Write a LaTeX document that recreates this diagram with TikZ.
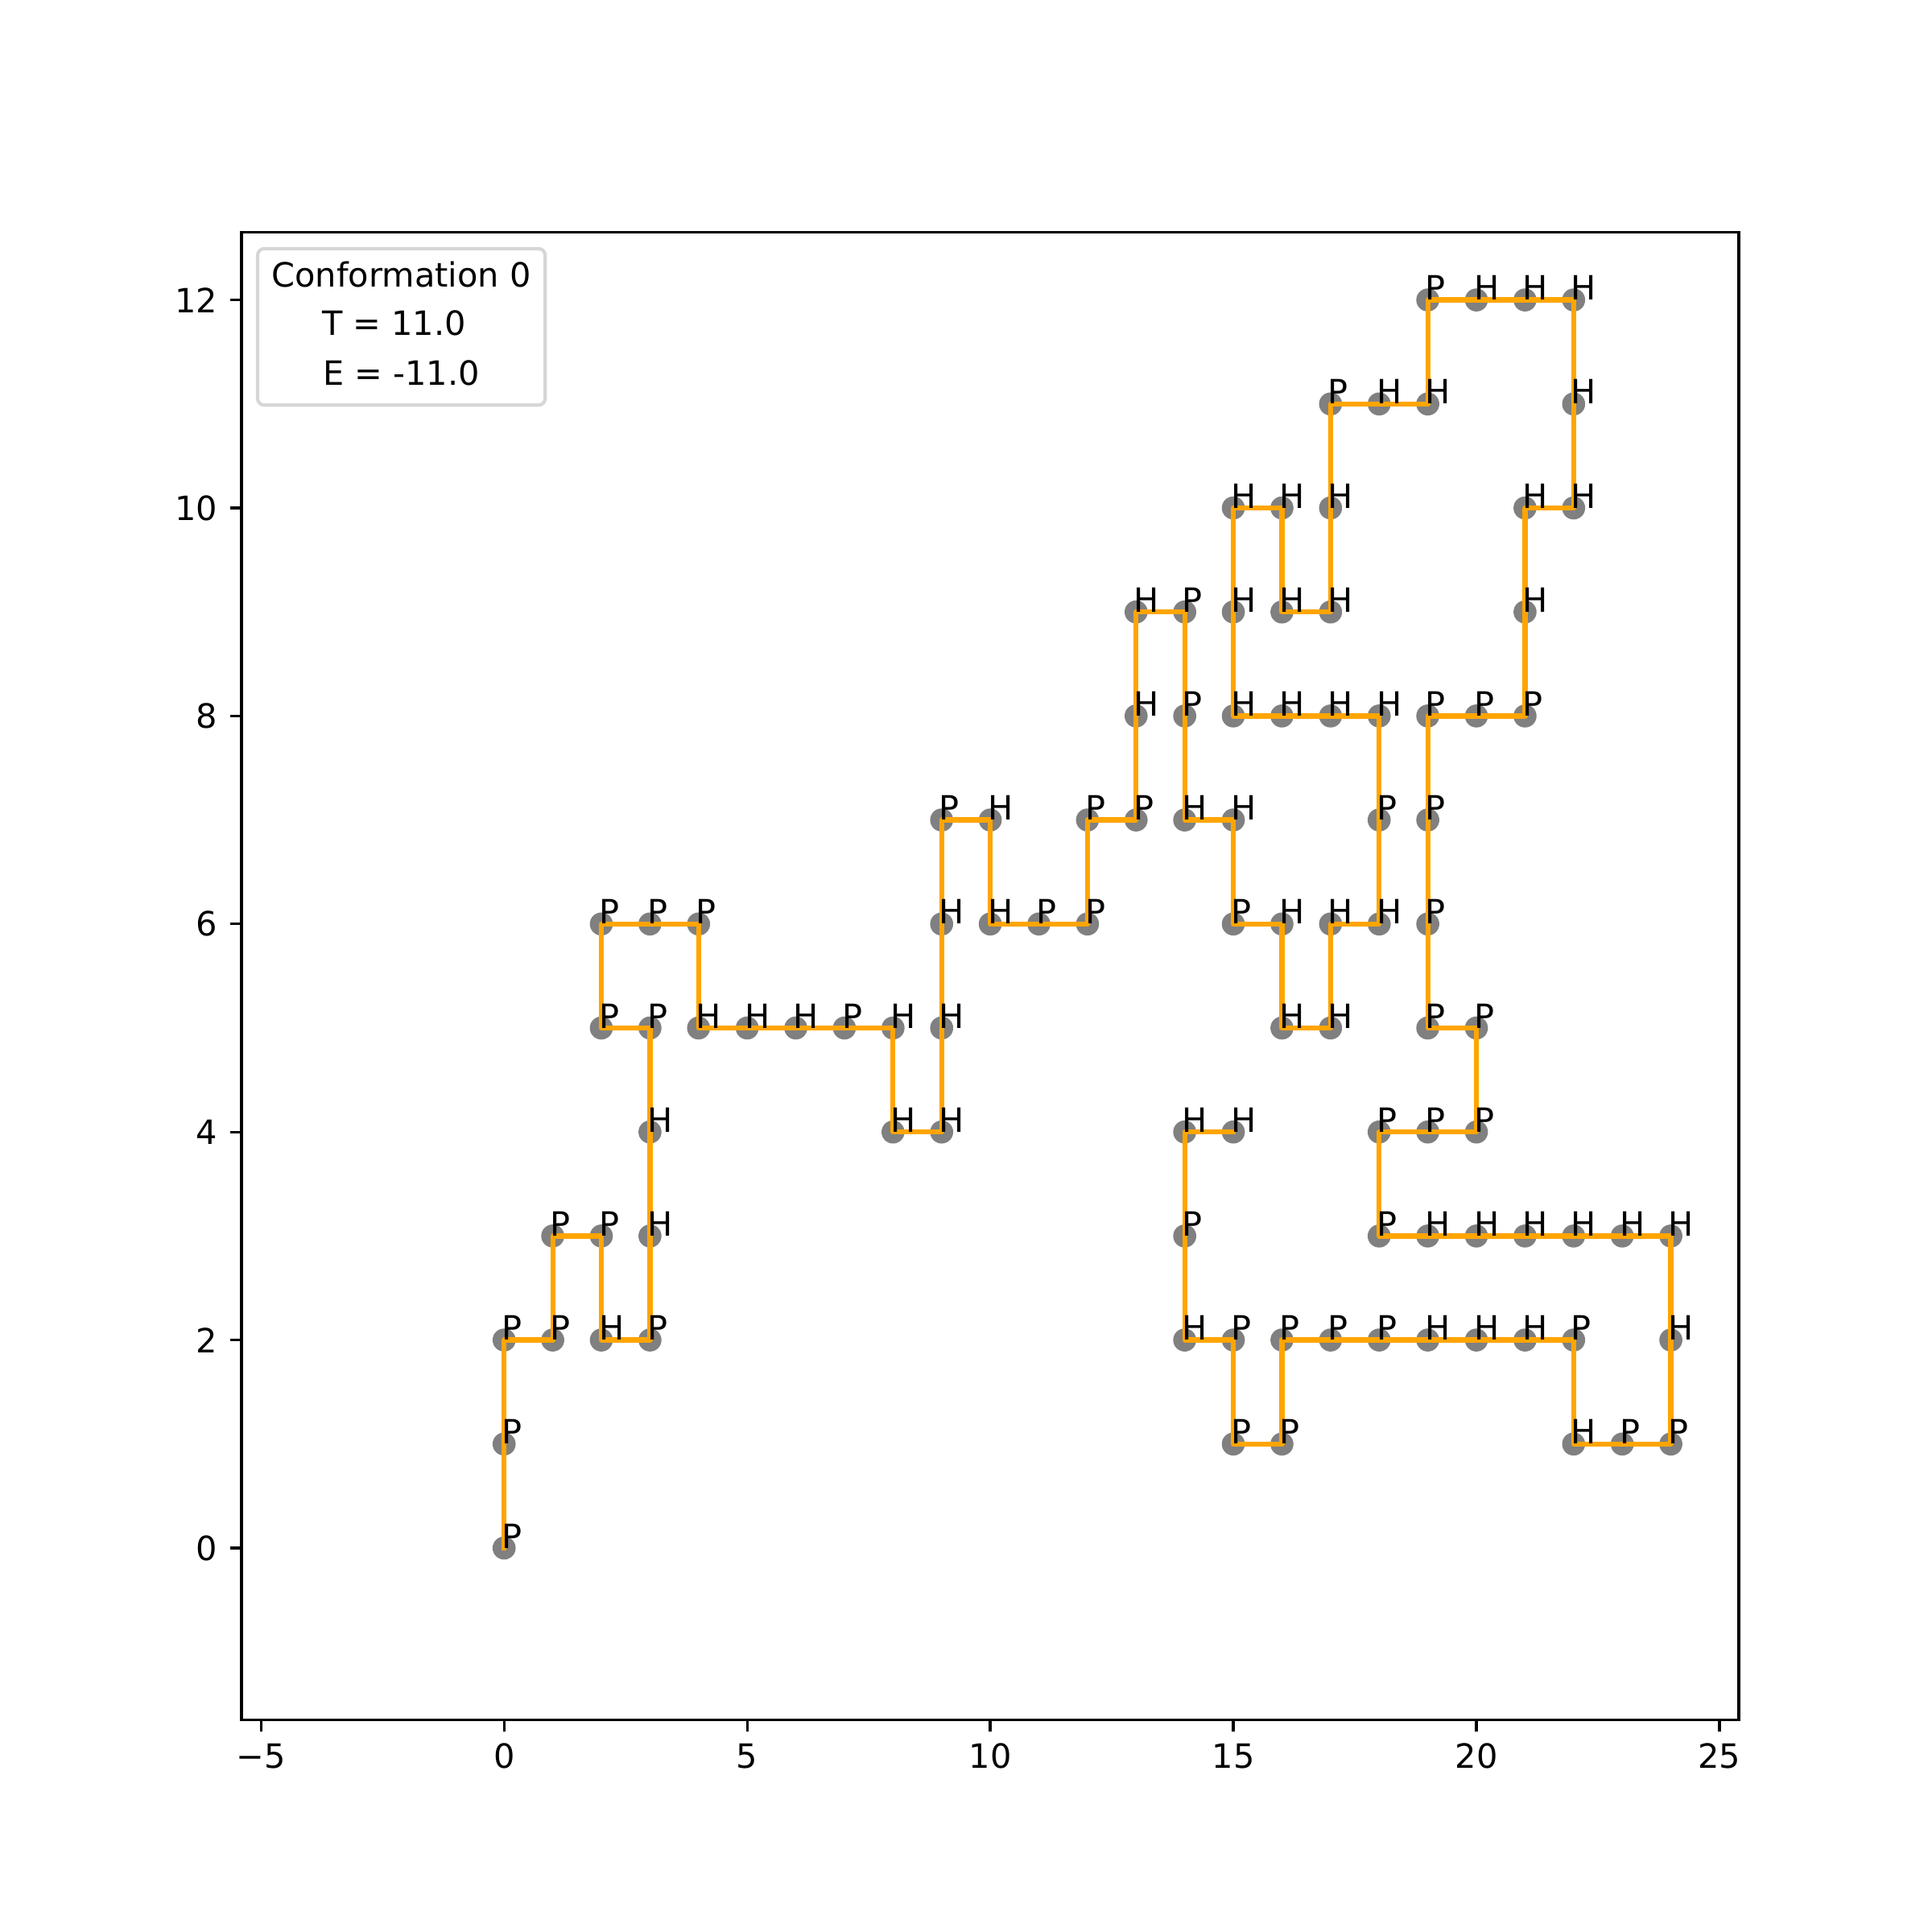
\documentclass[tikz,border=0pt]{standalone}
\usepackage{fontspec}
\setmainfont{DejaVu Sans}
\definecolor{beadgrey}{HTML}{808080}
\definecolor{chainorange}{HTML}{FFA500}

% x/y/residue of conformation 0
\def\conformation{0/0/P,0/1/P,0/2/P,1/2/P,1/3/P,2/3/P,2/2/H,3/2/P,3/3/H,3/4/H,
 3/5/P,2/5/P,2/6/P,3/6/P,4/6/P,4/5/H,5/5/H,6/5/H,7/5/P,8/5/H,
 8/4/H,9/4/H,9/5/H,9/6/H,9/7/P,10/7/H,10/6/H,11/6/P,12/6/P,12/7/P,
 13/7/P,13/8/H,13/9/H,14/9/P,14/8/P,14/7/H,15/7/H,15/6/P,16/6/H,16/5/H,
 17/5/H,17/6/H,18/6/H,18/7/P,18/8/H,17/8/H,16/8/H,15/8/H,15/9/H,15/10/H,
 16/10/H,16/9/H,17/9/H,17/10/H,17/11/P,18/11/H,19/11/H,19/12/P,20/12/H,21/12/H,
 22/12/H,22/11/H,22/10/H,21/10/H,21/9/H,21/8/P,20/8/P,19/8/P,19/7/P,19/6/P,
 19/5/P,20/5/P,20/4/P,19/4/P,18/4/P,18/3/P,19/3/H,20/3/H,21/3/H,22/3/H,
 23/3/H,24/3/H,24/2/H,24/1/P,23/1/P,22/1/H,22/2/P,21/2/H,20/2/H,19/2/H,
 18/2/P,17/2/P,16/2/P,16/1/P,15/1/P,15/2/P,14/2/H,14/3/P,14/4/H,15/4/H}

\begin{document}
\begin{tikzpicture}[x=0.5113cm,y=1.0939cm,
  bead/.style={fill=beadgrey},
  chain/.style={draw=chainorange,line width=1.5pt,line join=round,line cap=rect},
  residue/.style={anchor=base west,inner sep=0pt,xshift=-0.9pt},
  tick/.style={line width=0.8pt},
  xlab/.style={anchor=north,inner sep=0pt,yshift=-7pt},
  ylab/.style={anchor=east,inner sep=0pt,xshift=-7pt}]
 \useasboundingbox (-10.370,-3.689) rectangle (29.372,14.884);
 % beads
 \foreach \x/\y/\t [count=\i] in \conformation {
   \coordinate (r\i) at (\x,\y);
   \fill[bead] (r\i) circle (3.45pt);
 }
 % chain
 \draw[chain] (r1) \foreach \i in {2,...,100} { -- (r\i) };
 % residue letters
 \foreach \x/\y/\t [count=\i] in \conformation
   \node[residue] (t\i) at (r\i) {\t};
 % axes
 \draw[tick] (-5.4,-1.65) rectangle (25.4,12.65);
 \foreach \v/\s in {-5/−5,0/0,5/5,10/10,15/15,20/20,25/25} {
   \draw[tick] (\v,-1.65) -- ++(0,-3.5pt);
   \node[xlab] (xt\v) at (\v,-1.65) {\s};
 }
 \foreach \v in {0,2,...,12} {
   \draw[tick] (-5.4,\v) -- ++(-3.5pt,0);
   \node[ylab] (yt\v) at (-5.4,\v) {\v};
 }
 % legend
 \draw[draw=black!20,fill=white,opacity=0.8,line width=1pt,rounded corners=2pt]
   (-5.072,10.989) rectangle (0.8445,12.493);
 \node[anchor=base] (conf) at (-2.113,12.123) {Conformation 0};
 \node[anchor=base] (temp) at (-2.264,11.659) {T = 11.0};
 \node[anchor=base] (ener) at (-2.113,11.183) {E = -11.0};
\end{tikzpicture}
\end{document}
